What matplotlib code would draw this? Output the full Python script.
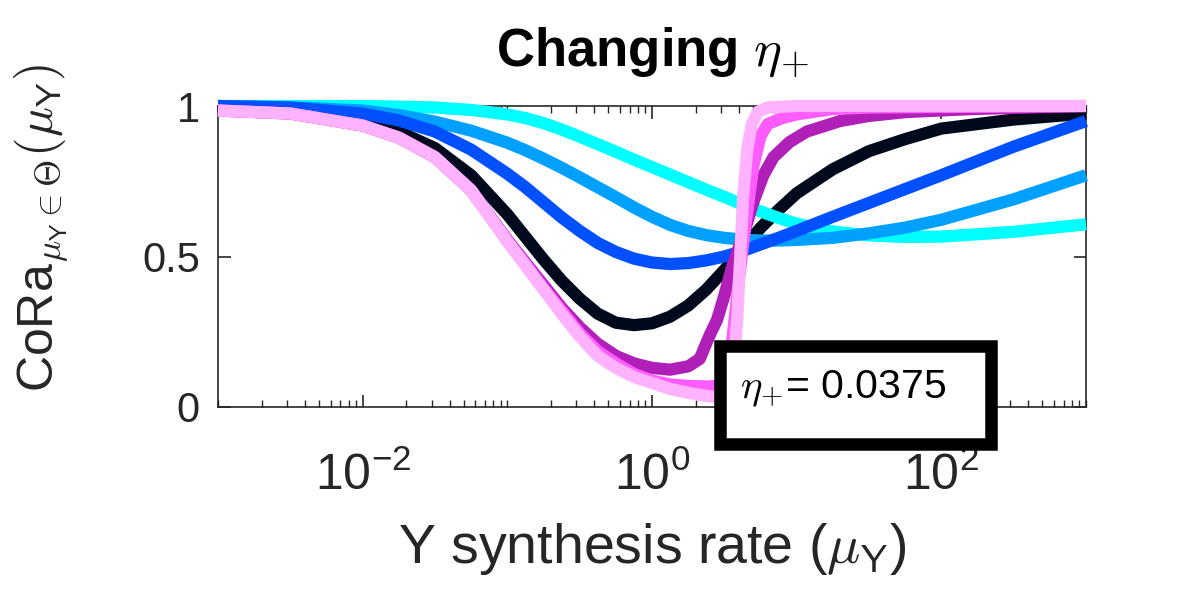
import numpy as np
import matplotlib
matplotlib.use("Agg")
import matplotlib.pyplot as plt
from matplotlib.patches import Rectangle
from matplotlib.ticker import LogLocator, NullFormatter, FixedLocator

plt.rcParams["font.family"] = ["Liberation Sans", "DejaVu Sans"]
plt.rcParams["mathtext.fontset"] = "cm"

# log10 of Y synthesis rate, shared grid for the smooth curves
log_mu = [-3, -2.5, -2, -1.75, -1.5, -1.25, -1, -0.875, -0.75, -0.625, -0.5,
          -0.375, -0.25, -0.125, 0, 0.125, 0.25, 0.375, 0.5, 0.625, 0.75,
          0.875, 1, 1.25, 1.5, 1.75, 2, 2.5, 3]

cora_cyan = [1.0, 1.0, 1.0, 0.998, 0.995, 0.987, 0.972, 0.96, 0.943, 0.922, 0.898,
             0.873, 0.848, 0.822, 0.797, 0.772, 0.747, 0.722, 0.698, 0.673, 0.65,
             0.628, 0.609, 0.583, 0.570, 0.565, 0.566, 0.582, 0.607]
cora_lightblue = [1.0, 0.996, 0.985, 0.97, 0.948, 0.918, 0.878, 0.853, 0.825, 0.795, 0.763,
                  0.73, 0.697, 0.663, 0.632, 0.605, 0.585, 0.571, 0.562, 0.556, 0.553,
                  0.553, 0.555, 0.562, 0.577, 0.596, 0.622, 0.69, 0.77]
cora_blue = [1.0, 0.995, 0.975, 0.952, 0.915, 0.855, 0.775, 0.73, 0.68, 0.63, 0.585,
             0.545, 0.515, 0.493, 0.48, 0.475, 0.478, 0.487, 0.50, 0.518, 0.54,
             0.562, 0.585, 0.632, 0.678, 0.724, 0.77, 0.865, 0.95]
cora_black = [1.0, 0.99, 0.96, 0.915, 0.86, 0.77, 0.64, 0.565, 0.49, 0.42, 0.36,
              0.31, 0.28, 0.272, 0.278, 0.3, 0.337, 0.39, 0.455, 0.525, 0.595,
              0.655, 0.71, 0.79, 0.85, 0.89, 0.925, 0.955, 0.975]

# steeper curves get their own, denser grids
log_mu_purple = [-3, -2.5, -2, -1.75, -1.5, -1.25, -1, -0.875, -0.75, -0.625, -0.5,
                 -0.375, -0.25, -0.125, 0, 0.125, 0.25, 0.33, 0.4, 0.45, 0.5,
                 0.55, 0.6, 0.65, 0.7, 0.77, 0.84, 0.95, 1.07, 1.3, 1.5, 1.76,
                 2.22, 3]
cora_purple = [0.985, 0.975, 0.935, 0.895, 0.83, 0.72, 0.555, 0.48, 0.405, 0.33, 0.265,
               0.21, 0.17, 0.145, 0.13, 0.124, 0.135, 0.16, 0.24, 0.29, 0.37,
               0.46, 0.53, 0.6, 0.68, 0.77, 0.83, 0.88, 0.915, 0.95, 0.967, 0.98,
               0.99, 1.0]

log_mu_magenta = [-3, -2.5, -2, -1.75, -1.5, -1.25, -1, -0.875, -0.75, -0.625, -0.5,
                  -0.375, -0.25, -0.125, 0, 0.125, 0.25, 0.375, 0.45, 0.5, 0.55,
                  0.6, 0.65, 0.7, 0.75, 0.8, 0.9, 1.0, 1.25, 1.5, 3]
cora_magenta = [0.985, 0.975, 0.935, 0.895, 0.83, 0.72, 0.552, 0.475, 0.395, 0.32, 0.245,
                0.185, 0.145, 0.11, 0.088, 0.075, 0.07, 0.068, 0.07, 0.09, 0.2,
                0.42, 0.62, 0.8, 0.9, 0.94, 0.96, 0.972, 0.99, 0.995, 1.0]

log_mu_pink = [-3, -2.5, -2, -1.75, -1.5, -1.25, -1, -0.875, -0.75, -0.625, -0.5,
               -0.375, -0.25, -0.125, 0, 0.125, 0.25, 0.375, 0.45, 0.52, 0.56,
               0.59, 0.61, 0.63, 0.66, 0.69, 0.73, 0.8, 1.0, 3]
cora_pink = [0.985, 0.975, 0.935, 0.895, 0.83, 0.72, 0.55, 0.47, 0.39, 0.31, 0.235,
             0.17, 0.13, 0.1, 0.08, 0.06, 0.047, 0.037, 0.033, 0.045, 0.1,
             0.3, 0.5, 0.7, 0.86, 0.94, 0.98, 0.995, 1.0, 1.0]

# draw order and colours
series = [
    (log_mu, cora_black, "#000A1C"),
    (log_mu, cora_cyan, "#00FFFF"),
    (log_mu, cora_lightblue, "#00A0FF"),
    (log_mu, cora_blue, "#0050FF"),
    (log_mu_purple, cora_purple, "#B01FB8"),
    (log_mu_magenta, cora_magenta, "#FF5CFF"),
    (log_mu_pink, cora_pink, "#FFB3FF"),
]

fig = plt.figure(figsize=(12, 6), dpi=100)
ax = fig.add_axes([218 / 1200, 1 - 407 / 600, 868 / 1200, 301 / 600])

for lx, y, c in series:
    ax.plot(10 ** np.asarray(lx), y, color=c, lw=8.8, solid_capstyle="butt",
            solid_joinstyle="round", clip_on=False)

ax.set_xscale("log")
ax.set_xlim(1e-3, 1e3)
ax.set_ylim(0, 1)

gray = "#262626"
for s in ax.spines.values():
    s.set_color(gray)
    s.set_linewidth(1.2)
    s.set_zorder(0.5)

ax.xaxis.set_major_locator(FixedLocator([1e-2, 1e0, 1e2]))
ax.xaxis.set_minor_locator(LogLocator(base=10, subs=np.arange(1, 10), numticks=20))
ax.xaxis.set_minor_formatter(NullFormatter())
ax.set_xticklabels(["$\\mathregular{10^{-2}}$", "$\\mathregular{10^{0}}$",
                    "$\\mathregular{10^{2}}$"])
ax.set_yticks([0, 0.5, 1])
ax.set_yticklabels(["0", "0.5", "1"])

ax.tick_params(axis="both", which="both", direction="in", top=True, right=True,
               colors=gray)
ax.tick_params(axis="x", which="major", length=9, width=1.2, pad=32, labelsize=36)
ax.tick_params(axis="x", which="minor", length=5, width=1.0)
ax.tick_params(axis="y", which="major", length=9, width=1.2, pad=13, labelsize=30)

fig.text(652 / 1200, 1 - 66 / 600, "Changing $\\eta_{\\mathbf{+}}$",
         ha="center", va="baseline", fontsize=38, fontweight="bold", color="black")

fig.text(652 / 1200, 1 - 563 / 600, "Y synthesis rate ($\\mu_{\\mathsf{Y}}$)",
         ha="center", va="baseline", fontsize=40, color=gray)

fig.text(41 / 1200, 1 - 228 / 600,
         "CoRa$_{\\mu_{\\mathsf{Y}}\\in\\Theta}(\\mu_{\\mathsf{Y}})$",
         ha="center", va="center", rotation=90, fontsize=36, color=gray)

# annotation box
fig.patches.append(Rectangle((720 / 1200, 1 - 444 / 600), 271 / 1200, 98 / 600,
                             transform=fig.transFigure, facecolor="white",
                             edgecolor="black", lw=9, zorder=5))
fig.text(740 / 1200, 1 - 398 / 600, "$\\eta_{+}$= 0.0375", ha="left",
         va="baseline", fontsize=29.5, color="black", zorder=6)

fig.savefig("out.png", dpi=100)
